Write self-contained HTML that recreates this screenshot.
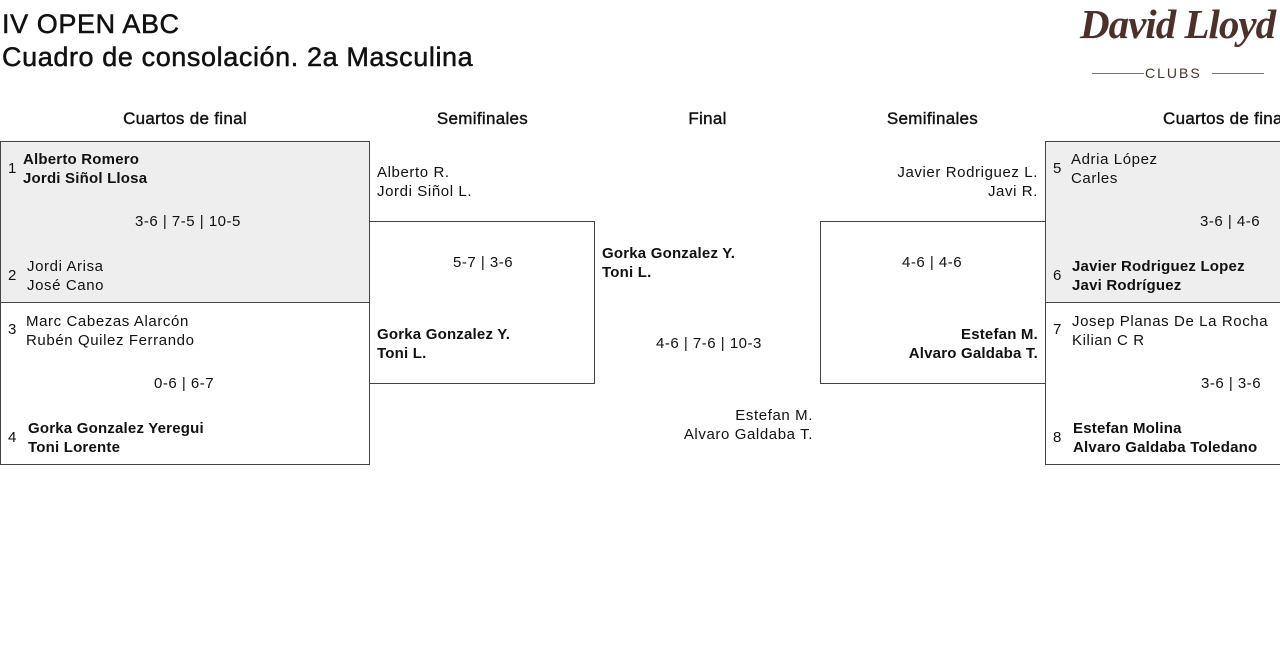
<!DOCTYPE html>
<html><head><meta charset="utf-8"><style>
body{margin:0;width:1280px;height:664px;overflow:hidden;background:#fff;font-family:"Liberation Sans",sans-serif;color:#111;position:relative}
div{position:absolute;white-space:nowrap}
.t{font-size:27px;left:2px;line-height:32px;letter-spacing:0.6px;-webkit-text-stroke:0.5px #111}
.h{font-size:17px;top:109px;text-align:center;letter-spacing:0.3px;-webkit-text-stroke:0.4px #111}
.n{font-size:15px;line-height:19px;letter-spacing:0.6px}
.b{font-weight:bold;letter-spacing:0.2px}
.box{border:1px solid #444;box-sizing:border-box}
.g{background:#eee}
.s{font-size:15px;letter-spacing:0.5px}
</style></head><body>
<div class="t" style="top:8px">IV OPEN ABC</div>
<div class="t" style="top:41px">Cuadro de consolación. 2a Masculina</div>
<div style="left:1080px;top:0px;font-family:'Liberation Serif',serif;font-style:italic;font-weight:bold;font-size:41px;color:#4e302a;letter-spacing:-1px">David Lloyd</div>
<div style="left:1092px;top:73px;width:52px;height:1px;background:#8a706b"></div>
<div style="left:1212px;top:73px;width:52px;height:1px;background:#8a706b"></div>
<div style="left:1145px;top:65px;font-size:14px;color:#4e302a;letter-spacing:2px">CLUBS</div>

<div class="h" style="left:0;width:370px">Cuartos de final</div>
<div class="h" style="left:370px;width:225px">Semifinales</div>
<div class="h" style="left:595px;width:225px">Final</div>
<div class="h" style="left:820px;width:225px">Semifinales</div>
<div class="h" style="left:1163px">Cuartos de final</div>

<div class="box g" style="left:0;top:141px;width:370px;height:162px"></div>
<div class="box" style="left:0;top:302px;width:370px;height:163px"></div>
<div class="box" style="left:369px;top:221px;width:226px;height:163px"></div>
<div class="box" style="left:820px;top:221px;width:226px;height:163px"></div>
<div class="box g" style="left:1045px;top:141px;width:250px;height:162px"></div>
<div class="box" style="left:1045px;top:302px;width:250px;height:163px"></div>

<div class="s" style="left:8px;top:160px">1</div>
<div class="n b" style="left:23px;top:150px">Alberto Romero<br>Jordi Siñol Llosa</div>
<div class="s" style="left:135px;top:213px">3-6 | 7-5 | 10-5</div>
<div class="s" style="left:8px;top:267px">2</div>
<div class="n" style="left:27px;top:257px">Jordi Arisa<br>José Cano</div>
<div class="s" style="left:8px;top:321px">3</div>
<div class="n" style="left:26px;top:312px">Marc Cabezas Alarcón<br>Rubén Quilez Ferrando</div>
<div class="s" style="left:154px;top:375px">0-6 | 6-7</div>
<div class="s" style="left:8px;top:429px">4</div>
<div class="n b" style="left:28px;top:419px">Gorka Gonzalez Yeregui<br>Toni Lorente</div>

<div class="n" style="left:377px;top:163px">Alberto R.<br>Jordi Siñol L.</div>
<div class="s" style="left:453px;top:254px">5-7 | 3-6</div>
<div class="n b" style="left:377px;top:325px">Gorka Gonzalez Y.<br>Toni L.</div>

<div class="n b" style="left:602px;top:244px">Gorka Gonzalez Y.<br>Toni L.</div>
<div class="s" style="left:656px;top:335px">4-6 | 7-6 | 10-3</div>
<div class="n" style="left:664px;top:406px;text-align:right;width:149px">Estefan M.<br>Alvaro Galdaba T.</div>

<div class="n" style="left:860px;top:163px;text-align:right;width:178px">Javier Rodriguez L.<br>Javi R.</div>
<div class="s" style="left:902px;top:254px">4-6 | 4-6</div>
<div class="n b" style="left:860px;top:325px;text-align:right;width:178px">Estefan M.<br>Alvaro Galdaba T.</div>

<div class="s" style="left:1053px;top:160px">5</div>
<div class="n" style="left:1071px;top:150px">Adria López<br>Carles</div>
<div class="s" style="left:1200px;top:213px">3-6 | 4-6</div>
<div class="s" style="left:1053px;top:267px">6</div>
<div class="n b" style="left:1072px;top:257px">Javier Rodriguez Lopez<br>Javi Rodríguez</div>
<div class="s" style="left:1053px;top:321px">7</div>
<div class="n" style="left:1072px;top:312px">Josep Planas De La Rocha<br>Kilian C R</div>
<div class="s" style="left:1201px;top:375px">3-6 | 3-6</div>
<div class="s" style="left:1053px;top:429px">8</div>
<div class="n b" style="left:1073px;top:419px">Estefan Molina<br>Alvaro Galdaba Toledano</div>
</body></html>
